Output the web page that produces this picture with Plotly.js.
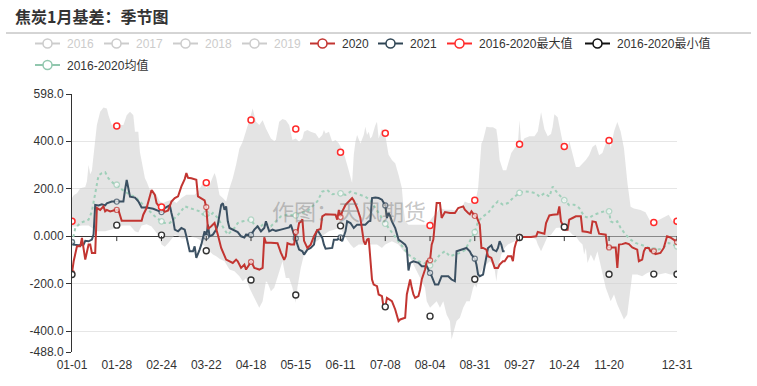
<!DOCTYPE html>
<html><head><meta charset="utf-8">
<script src="https://cdn.plot.ly/plotly-3.0.1.min.js"></script>
<style>html,body{margin:0;padding:0;background:#fff}#chart{width:757px;height:386px}</style>
</head><body><div id="chart"></div>
<script>
// ---------------- DATA ----------------
const chartTitle = '焦炭1月基差：季节图';
const tickLabels = ['01-01','01-28','02-24','03-22','04-18','05-15','06-11','07-08','08-04','08-31','09-27','10-24','11-20','12-31'];
const markerDates = ['01-01','01-28','02-24','03-22','04-18','05-15','06-11','07-08','08-04','08-31','09-27','10-24','11-20','12-17','12-31'];
const yTickVals = [598,400,200,0,-200,-400,-488];
const yTickText = ['598.0','400.0','200.0','0.000','-200.0','-400.0','-488.0'];

// [day of year (0 = 01-01), value]
const series2020 = [[0,-155],[1,-106],[3,-43],[5,-43],[6,-8],[7,-48],[8,-99],[10,-36],[11,-36],[12,-71],[14,-71],[15,118],[17,110],[19,125],[20,104],[21,110],[23,104],[26,110],[27,110],[28,110],[30,64],[36,64],[42,64],[43,90],[45,118],[48,194],[50,173],[51,139],[52,130],[54,122],[56,102],[58,108],[60,145],[62,160],[64,167],[66,209],[68,240],[69,265],[70,245],[72,243],[75,237],[76,167],[78,160],[80,150],[81,122],[82,30],[84,41],[86,55],[88,6],[90,-50],[93,-99],[95,-106],[97,-113],[99,-99],[100,-106],[102,-134],[104,-120],[105,-141],[108,-109],[109,-120],[110,-134],[113,-141],[115,-134],[116,-5],[117,-28],[120,-28],[124,-30],[126,-70],[128,-100],[129,-85],[130,-30],[132,-35],[134,-35],[135,17],[136,17],[137,55],[138,60],[139,70],[140,-20],[142,-50],[144,-36],[146,0],[148,25],[150,30],[151,83],[153,92],[156,92],[159,90],[160,69],[161,110],[162,80],[163,103],[165,131],[167,145],[169,160],[170,150],[172,118],[174,76],[175,20],[176,-22],[177,-36],[178,-15],[179,-10],[181,-183],[182,-204],[184,-211],[185,-246],[187,-253],[188,-302],[189,-298],[190,-260],[192,-267],[193,-274],[195,-309],[196,-330],[197,-358],[198,-351],[201,-344],[202,-246],[203,-211],[204,-183],[205,-218],[206,-246],[207,-260],[209,-253],[210,-225],[211,-183],[213,-141],[214,-106],[216,-102],[217,-36],[218,-15],[219,48],[220,139],[222,139],[223,76],[225,101],[228,97],[231,97],[233,118],[236,125],[237,111],[239,97],[240,92],[241,104],[243,85],[244,83],[245,62],[246,48],[247,-50],[248,-50],[250,-57],[251,-85],[253,-92],[255,-134],[257,-134],[258,-120],[260,-106],[261,-106],[263,-85],[265,-85],[266,-106],[267,-50],[268,-25],[269,-15],[270,-4],[277,-4],[280,-1],[281,17],[285,10],[286,55],[288,87],[290,90],[293,92],[294,125],[295,62],[297,35],[298,27],[299,27],[300,69],[302,76],[304,83],[307,83],[308,20],[311,17],[313,13],[314,62],[316,59],[317,34],[318,10],[322,6],[323,-48],[324,-48],[326,-48],[328,-48],[329,-134],[330,-36],[332,-34],[334,-29],[336,-34],[338,-48],[341,-57],[342,-106],[344,-99],[345,-64],[346,-50],[348,-50],[349,-64],[351,-64],[352,-76],[355,-71],[357,-50],[359,-1],[361,-6],[363,-15],[365,-25]];

const series2021 = [[0,-25],[1,-36],[4,-39],[6,-39],[7,-36],[8,-20],[10,-22],[12,-15],[13,6],[14,131],[16,129],[18,134],[20,129],[21,138],[24,145],[27,145],[31,145],[32,194],[33,236],[34,201],[35,166],[38,162],[40,146],[42,120],[45,120],[49,115],[51,110],[54,101],[56,118],[59,130],[60,97],[61,69],[62,27],[64,20],[66,34],[68,27],[69,-1],[70,-36],[71,-64],[73,-64],[74,-43],[75,-92],[76,-78],[77,-57],[78,-36],[80,20],[81,-3],[82,48],[83,-1],[85,6],[87,27],[88,48],[89,90],[90,131],[91,138],[92,111],[93,125],[94,62],[95,34],[97,27],[100,17],[102,-1],[104,-6],[105,6],[106,6],[108,5],[110,27],[112,41],[114,20],[116,34],[117,62],[119,20],[121,27],[123,22],[126,27],[129,34],[131,36],[132,48],[133,27],[135,-10],[137,-57],[139,-64],[140,-78],[142,-57],[144,-50],[146,-36],[147,6],[148,27],[150,6],[151,-8],[152,-36],[153,-53],[157,-50],[158,-15],[160,-15],[162,-6],[163,-22],[165,20],[166,62],[168,55],[170,34],[172,48],[177,48],[178,55],[179,62],[180,64],[181,160],[183,162],[185,160],[187,153],[189,129],[190,76],[191,97],[192,83],[193,62],[195,34],[197,-15],[199,-25],[201,-36],[202,-50],[203,-145],[204,-113],[206,-106],[209,-113],[211,-127],[214,-127],[216,-155],[217,-169],[219,-204],[221,-204],[223,-169],[227,-169],[229,-183],[231,-190],[232,-64],[235,-57],[237,-55],[238,-50],[240,-64],[241,-78],[243,-95],[244,-120],[245,-162],[246,-169],[248,-162],[249,-120],[250,-78],[251,-50],[253,-39],[254,-57],[256,-64],[257,-50],[258,-22],[259,-36],[260,-64],[261,-64]];

const meanSeries = [[0,-29],[2,34],[5,55],[8,62],[10,69],[12,104],[14,173],[16,255],[18,265],[20,269],[22,243],[25,222],[27,216],[29,201],[32,188],[35,173],[38,166],[41,146],[44,125],[47,104],[50,83],[54,62],[56,55],[59,55],[62,76],[65,97],[68,125],[71,118],[74,111],[77,104],[79,90],[81,94],[83,83],[85,97],[88,76],[90,48],[92,27],[94,6],[96,20],[98,34],[100,55],[103,62],[108,69],[110,48],[113,34],[116,55],[120,41],[123,62],[126,83],[130,90],[135,87],[138,97],[142,104],[145,125],[148,146],[151,187],[154,194],[157,176],[162,180],[165,173],[168,187],[171,180],[174,173],[177,166],[180,150],[183,118],[186,83],[189,52],[191,34],[194,6],[197,-22],[200,-50],[203,-78],[206,-92],[209,-106],[212,-113],[216,-123],[219,-106],[222,-78],[225,-64],[228,-85],[231,-78],[234,-71],[237,-60],[240,-20],[243,17],[245,62],[248,83],[251,97],[254,125],[257,146],[260,132],[263,139],[266,160],[270,182],[273,188],[277,185],[280,180],[282,166],[285,180],[288,166],[290,208],[293,180],[297,151],[300,130],[303,132],[306,118],[309,83],[312,76],[315,90],[318,97],[321,104],[324,104],[325,62],[327,55],[329,62],[331,34],[334,6],[337,-15],[340,-29],[343,-36],[346,-43],[351,-60],[353,-57],[356,-53],[360,-29],[363,-36],[365,-43]];

const maxVals = [62,463,122,224,489,451,353,433,45,151,386,377,402,57,62];
const minVals = [-162,46,4,-62,-185,-248,43,-298,-337,-182,-6,38,-161,-160,-161];

const bandUpper = [[0,160],[1,172],[3,180],[5,201],[8,207],[9,230],[10,299],[11,260],[12,275],[14,397],[15,467],[17,523],[19,541],[21,537],[22,509],[24,467],[26,474],[29,467],[31,467],[32,488],[33,509],[35,523],[37,509],[38,439],[40,439],[41,353],[43,280],[44,243],[45,230],[47,194],[49,194],[51,173],[53,146],[55,139],[57,146],[60,153],[63,139],[66,160],[69,174],[74,174],[76,188],[77,201],[79,222],[81,201],[83,215],[85,250],[86,265],[87,245],[89,173],[91,160],[93,146],[95,201],[97,243],[99,300],[101,369],[103,397],[105,439],[107,488],[109,537],[111,481],[113,467],[115,488],[117,453],[119,425],[120,411],[122,400],[123,405],[125,481],[127,493],[129,488],[131,467],[133,404],[135,411],[137,397],[139,411],[140,439],[142,446],[144,439],[145,436],[147,432],[149,411],[151,425],[152,446],[153,432],[155,439],[157,397],[159,404],[161,390],[162,376],[164,348],[166,300],[168,244],[169,223],[170,342],[171,397],[172,425],[174,390],[176,425],[177,460],[178,425],[179,439],[180,411],[181,419],[183,466],[184,481],[185,411],[187,453],[189,425],[191,342],[193,320],[195,306],[197,258],[199,202],[200,118],[201,62],[203,48],[206,48],[209,48],[212,48],[214,48],[218,83],[220,97],[222,118],[225,111],[229,111],[233,104],[235,118],[237,146],[239,139],[241,139],[243,160],[244,168],[245,200],[246,300],[247,390],[248,403],[249,430],[250,460],[252,458],[254,458],[256,450],[257,400],[258,320],[260,277],[262,277],[265,350],[267,370],[269,390],[270,486],[271,390],[273,412],[276,420],[279,420],[281,440],[283,521],[285,450],[287,420],[289,430],[290,460],[291,513],[293,500],[295,430],[297,361],[299,370],[300,400],[302,345],[304,291],[306,291],[308,305],[310,320],[312,340],[314,375],[316,385],[318,340],[320,350],[322,390],[324,405],[325,370],[327,440],[329,480],[331,440],[333,370],[335,230],[337,123],[339,116],[343,110],[346,100],[349,60],[352,60],[355,70],[358,80],[360,90],[362,65],[365,55]];

const bandLower = [[0,40],[3,40],[6,45],[10,45],[13,30],[15,20],[20,20],[25,30],[30,45],[35,45],[38,20],[40,15],[42,45],[45,50],[48,40],[50,20],[52,5],[54,-35],[56,-45],[58,-30],[60,-10],[62,5],[64,0],[66,-10],[68,-10],[71,0],[73,-5],[75,-8],[77,-15],[79,-36],[81,-50],[83,-64],[85,-78],[87,-85],[89,-95],[92,-106],[95,-141],[98,-148],[101,-169],[103,-190],[105,-176],[107,-218],[109,-246],[111,-274],[113,-302],[115,-274],[117,-190],[118,-197],[120,-232],[122,-218],[124,-176],[126,-134],[127,-106],[129,-176],[131,-176],[133,-218],[135,-281],[136,-218],[138,-134],[140,-78],[143,-50],[146,-29],[149,-15],[152,6],[155,20],[158,27],[162,36],[164,6],[166,-15],[168,-36],[170,-50],[173,-36],[176,-36],[178,-20],[180,-36],[184,-36],[187,-50],[189,-36],[193,-22],[197,-36],[200,-64],[203,-78],[205,-106],[207,-134],[209,-162],[211,-190],[213,-218],[214,-274],[216,-302],[218,-288],[220,-274],[222,-302],[224,-274],[226,-330],[228,-358],[229,-435],[231,-386],[232,-358],[234,-344],[236,-302],[238,-274],[240,-274],[242,-218],[243,-204],[244,-218],[246,-162],[248,-134],[250,-120],[252,-106],[254,-120],[255,-141],[256,-190],[257,-134],[259,-78],[261,-50],[263,-36],[265,-29],[267,-22],[269,-8],[271,-1],[274,-1],[277,-1],[280,-15],[281,-36],[283,-64],[285,-29],[287,-1],[289,6],[292,34],[295,36],[297,20],[300,20],[302,6],[304,-1],[306,-22],[308,-36],[309,-78],[310,-50],[311,-113],[313,-78],[315,-106],[317,-64],[320,-162],[322,-218],[325,-274],[327,-246],[329,-288],[331,-316],[333,-351],[335,-330],[337,-232],[338,-162],[341,-162],[344,-169],[347,-155],[350,-148],[354,-162],[358,-155],[361,-162],[365,-162]];

const legendItems = [
  {label:'2016', color:'#cccccc', text:'#cccccc'},
  {label:'2017', color:'#cccccc', text:'#cccccc'},
  {label:'2018', color:'#cccccc', text:'#cccccc'},
  {label:'2019', color:'#cccccc', text:'#cccccc'},
  {label:'2020', color:'#c23531', text:'#333333'},
  {label:'2021', color:'#2f4554', text:'#333333'},
  {label:'2016-2020最大值', color:'#ff2a2a', text:'#333333'},
  {label:'2016-2020最小值', color:'#111111', text:'#333333'},
  {label:'2016-2020均值', color:'#91c7ae', text:'#333333'}
];

// ---------------- LAYOUT HELPERS ----------------
const W = 757, H = 386, M = {l:72, r:80, t:94, b:34};
const PW = W - M.l - M.r, PH = H - M.t - M.b;
const px = x => (x - M.l) / PW;
const py = y => (H - M.b - y) / PH;
const MONTH_START = [0,31,60,91,121,152,182,213,244,274,305,335];
function dayOf(md){ const [m,d] = md.split('-').map(Number); return MONTH_START[m-1] + d - 1; }
const markerDays = markerDates.map(dayOf);

function lineTrace(pairs, color, width, dash, msize){
  const x = pairs.map(p => p[0]), y = pairs.map(p => p[1]);
  const show = x.map(d => markerDays.includes(d));
  return {x, y, type:'scatter', mode:'lines+markers', hoverinfo:'skip', showlegend:false,
    line:{color, width, dash},
    marker:{symbol:'circle', color:'#ffffff', size:show.map(s => s ? msize : 0),
      line:{color, width:show.map(s => s ? 1.3 : 0)}}};
}

const traces = [
  {x:bandLower.map(p=>p[0]), y:bandLower.map(p=>p[1]), type:'scatter', mode:'lines', line:{width:0, color:'rgba(0,0,0,0)'}, hoverinfo:'skip', showlegend:false},
  {x:bandUpper.map(p=>p[0]), y:bandUpper.map(p=>p[1]), type:'scatter', mode:'lines', fill:'tonexty', fillcolor:'rgba(205,205,205,0.55)', line:{width:0, color:'rgba(0,0,0,0)'}, hoverinfo:'skip', showlegend:false},
  lineTrace(meanSeries, '#9fcfb9', 2, 'dot', 5.5),
  lineTrace(series2021, '#3b5062', 2, 'solid', 5),
  lineTrace(series2020, '#c23531', 2, 'solid', 5),
  {x:markerDays, y:maxVals, type:'scatter', mode:'markers', hoverinfo:'skip', showlegend:false,
    marker:{symbol:'circle', size:6, color:'#ffffff', line:{color:'#ff2a2a', width:1.5}}},
  {x:markerDays, y:minVals, type:'scatter', mode:'markers', hoverinfo:'skip', showlegend:false,
    marker:{symbol:'circle', size:6, color:'#ffffff', line:{color:'#333333', width:1.4}}}
];

// ---------------- SHAPES & ANNOTATIONS ----------------
const shapes = [];
const annotations = [];
shapes.push({type:'line', xref:'paper', yref:'paper', x0:px(6), x1:px(751), y0:py(33), y1:py(33), line:{color:'#aaaaaa', width:1}});
tickLabels.slice(1).forEach(l => {
  const d = dayOf(l);
  shapes.push({type:'line', xref:'x', yref:'y', ysizemode:'pixel', yanchor:0, x0:d, x1:d, y0:0, y1:-5, line:{color:'#333333', width:1}});
});
const legendPos = [[35,43.5],[104,43.5],[173,43.5],[242,43.5],[310,43.5],[378,43.5],[447,43.5],[585,43.5],[35,65]];
legendItems.forEach((it, i) => {
  const [x0, yy] = legendPos[i];
  shapes.push({type:'line', xref:'paper', yref:'paper', x0:px(x0), x1:px(x0+25), y0:py(yy), y1:py(yy), line:{color:it.color, width:2}});
  shapes.push({type:'circle', xref:'paper', yref:'paper', x0:px(x0+12.5-4.5), x1:px(x0+12.5+4.5), y0:py(yy+4.5), y1:py(yy-4.5), fillcolor:'#ffffff', line:{color:it.color, width:1.5}});
  annotations.push({xref:'paper', yref:'paper', x:px(x0+30), y:py(yy), xanchor:'left', yanchor:'middle', showarrow:false, text:it.label,
    font:{family:'Liberation Sans, Noto Sans CJK SC, sans-serif', size:12, color:it.text}});
});
annotations.push({xref:'paper', yref:'paper', x:px(349), y:py(210), xanchor:'center', yanchor:'middle', showarrow:false,
  text:'作图：天风期货', font:{family:'Noto Sans CJK SC, sans-serif', size:22, color:'rgba(110,110,110,0.4)'}});

const layout = {
  width:W, height:H, margin:{l:M.l, r:M.r, t:M.t, b:M.b, pad:0},
  paper_bgcolor:'#ffffff', plot_bgcolor:'#ffffff', showlegend:false,
  font:{family:'Liberation Sans, Noto Sans CJK SC, sans-serif', size:12, color:'#333333'},
  title:{text:chartTitle, xref:'container', yref:'container', x:15/W, xanchor:'left', y:1-17/H, yanchor:'middle',
    font:{family:'Noto Sans CJK SC, sans-serif', size:16, weight:700, color:'#333333'}},
  xaxis:{range:[0,365], tickmode:'array', tickvals:tickLabels.map(dayOf), ticktext:tickLabels,
    showgrid:false, zeroline:false, showline:false, ticks:'', ticklabelstandoff:4,
    tickfont:{size:12, color:'#333333'}, fixedrange:true},
  yaxis:{range:[-488,598], tickmode:'array', tickvals:yTickVals, ticktext:yTickText,
    showgrid:true, gridcolor:'#e6e6e6', gridwidth:1, zeroline:true, zerolinecolor:'#333333', zerolinewidth:1,
    showline:true, linecolor:'#333333', linewidth:1, ticks:'outside', ticklen:5, tickcolor:'#333333',
    tickfont:{size:12, color:'#333333'}, fixedrange:true},
  shapes, annotations
};

Plotly.newPlot('chart', traces, layout, {displayModeBar:false, staticPlot:true});
</script>
</body></html>
